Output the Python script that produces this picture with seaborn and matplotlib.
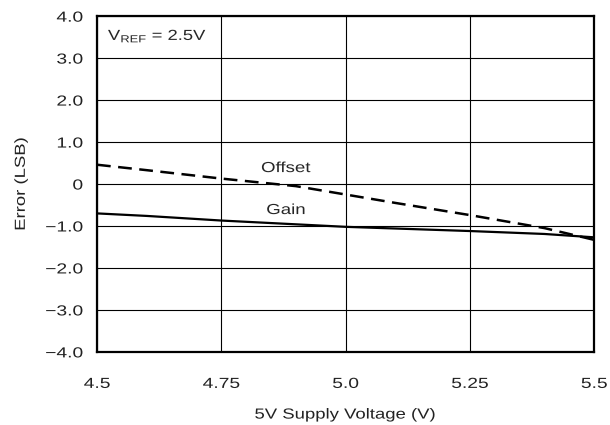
import matplotlib
matplotlib.use("Agg")
import matplotlib.pyplot as plt
from matplotlib.patheffects import AbstractPathEffect
from matplotlib.transforms import Affine2D
import seaborn as sns
import pandas as pd

supply_v = [4.5, 4.6, 4.75, 4.9, 5.0, 5.1, 5.25, 5.4, 5.5]
offset_err = [0.46, 0.33, 0.13, -0.05, -0.25, -0.45, -0.74, -1.05, -1.33]
gain_err = [-0.70, -0.76, -0.87, -0.96, -1.02, -1.06, -1.12, -1.19, -1.27]

x_ticks = [4.5, 4.75, 5.0, 5.25, 5.5]
x_tick_labels = ["4.5", "4.75", "5.0", "5.25", "5.5"]
y_ticks = [-4, -3, -2, -1, 0, 1, 2, 3, 4]
y_tick_labels = ["\u22124.0", "\u22123.0", "\u22122.0", "\u22121.0", "0", "1.0", "2.0", "3.0", "4.0"]


class Stretch(AbstractPathEffect):
    """Widen glyphs along the text direction around an anchor."""
    def __init__(self, s, anchor="center"):
        super().__init__()
        self.s = s
        self.anchor = anchor

    def draw_path(self, renderer, gc, tpath, affine, rgbFace=None):
        v = tpath.vertices
        if len(v):
            lo, hi = v[:, 0].min(), v[:, 0].max()
        else:
            lo = hi = 0.0
        c = {"left": lo, "right": hi}.get(self.anchor, (lo + hi) / 2)
        pre = Affine2D().translate(-c, 0).scale(self.s, 1).translate(c, 0)
        renderer.draw_path(gc, tpath, pre + affine, rgbFace)


sns.set_style("white")
plt.rcParams["font.family"] = ["Liberation Sans", "DejaVu Sans"]

df = pd.DataFrame({"v": supply_v, "offset": offset_err, "gain": gain_err})

fig = plt.figure(figsize=(6.1, 4.25), dpi=100)
ax = fig.add_axes([0.159, 0.172, 0.815, 0.79])

sns.lineplot(data=df, x="v", y="offset", ax=ax, color="black", lw=1.8,
             linestyle=(0, (5.5, 3)))
sns.lineplot(data=df, x="v", y="gain", ax=ax, color="black", lw=1.6)

ax.set_xlim(4.5, 5.5)
ax.set_ylim(-4, 4)
ax.set_xticks(x_ticks)
ax.set_xticklabels(x_tick_labels)
ax.set_yticks(y_ticks)
ax.set_yticklabels(y_tick_labels)
ax.grid(True, color="black", lw=0.8)
ax.set_axisbelow(True)
for s in ax.spines.values():
    s.set_visible(True)
    s.set_color("black")
    s.set_linewidth(1.6)
ax.tick_params(axis="x", labelsize=10.5, length=0, pad=18, colors="#222222")
ax.tick_params(axis="y", labelsize=10.5, length=0, pad=10, colors="#222222")
ax.set_xlabel("5V Supply Voltage (V)", fontsize=10.5, labelpad=12, color="#222222")
ax.set_ylabel("Error (LSB)", fontsize=10.5, labelpad=19, color="#222222")

for lbl in ax.get_xticklabels():
    lbl.set_path_effects([Stretch(1.32, "center")])
for lbl in ax.get_yticklabels():
    lbl.set_path_effects([Stretch(1.32, "right")])
ax.xaxis.label.set_path_effects([Stretch(1.27, "center")])
ax.yaxis.label.set_path_effects([Stretch(1.27, "center")])

t1 = ax.text(4.880, 0.38, "Offset", ha="center", va="center", fontsize=10.5)
t2 = ax.text(4.880, -0.62, "Gain", ha="center", va="center", fontsize=10.5)
t3 = ax.text(4.522, 3.52, r"V$_{\mathregular{REF}}$ = 2.5V", ha="left", va="center", fontsize=10.5)
for t in (t1, t2):
    t.set_path_effects([Stretch(1.28, "center")])
t3.set_path_effects([Stretch(1.26, "left")])

fig.savefig("out.png", dpi=100, facecolor="white")
